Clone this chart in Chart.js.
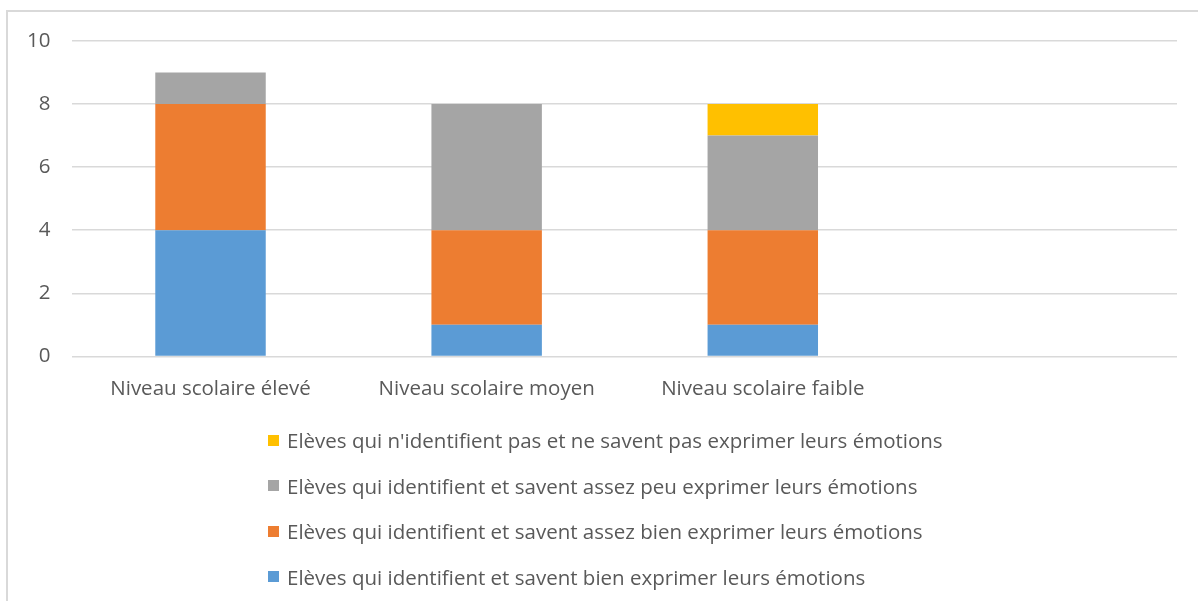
<!DOCTYPE html>
<html lang="fr">
<head>
<meta charset="utf-8">
<script src="https://cdn.jsdelivr.net/npm/chart.js@4"></script>
<style>
  body { margin: 0; background: #fff; font-family: "Open Sans", sans-serif; }
  #frame {
    position: absolute; left: 6px; top: 10px; width: 1300px; height: 700px;
    border-left: 2px solid #d9d9d9; border-top: 2px solid #d9d9d9;
  }
  #wrap { position: absolute; left: 0; top: 0; width: 1198px; height: 440px; }
  #legend { position: absolute; left: 268px; top: 426px; }
  .item { display: flex; align-items: center; height: 28px; margin-bottom: 17.5px;
          font-size: 20.5px; color: #595959; white-space: nowrap; }
  .item span.box { width: 11px; height: 11px; margin-right: 8px; display: inline-block; flex: none; }
</style>
</head>
<body>
<div id="frame"></div>
<div id="wrap"><canvas id="chart"></canvas></div>
<div id="legend"></div>
<script>
// catégories (la 4e est vide, comme dans l'original)
const niveaux = ["Niveau scolaire élevé", "Niveau scolaire moyen", "Niveau scolaire faible", ""];

// séries
const bien = [4, 1, 1, null];
const assezBien = [4, 3, 3, null];
const assezPeu = [1, 4, 3, null];
const pasDuTout = [0, 0, 1, null];

const noms = [
    "Elèves qui identifient et savent bien exprimer leurs émotions",
    "Elèves qui identifient et savent assez bien exprimer leurs émotions",
    "Elèves qui identifient et savent assez peu exprimer leurs émotions",
    "Elèves qui n'identifient pas et ne savent pas exprimer leurs émotions",
];
const couleurs = ["#5b9bd5", "#ed7d31", "#a5a5a5", "#ffc000"];

const series = [bien, assezBien, assezPeu, pasDuTout];
const police = { family: "Open Sans", size: 20.5 };

const chart = new Chart(document.getElementById("chart"), {
    type: "bar",
    data: {
        labels: niveaux,
        datasets: series.map((d, i) => ({
            label: noms[i],
            data: d,
            backgroundColor: couleurs[i],
            borderWidth: 0,
            barPercentage: 0.4,
            categoryPercentage: 1,
        })),
    },
    options: {
        responsive: true,
        maintainAspectRatio: false,
        animation: false,
        layout: { padding: { top: 41, right: 21, bottom: 19, left: 5 } },
        plugins: {
            legend: { display: false },
            tooltip: { enabled: false },
        },
        scales: {
            x: {
                stacked: true,
                grid: { display: false, drawTicks: false },
                border: { display: false },
                ticks: { color: "#595959", font: police, padding: 20, maxRotation: 0 },
            },
            y: {
                stacked: true,
                min: 0,
                max: 10,
                grid: { color: "#d9d9d9", lineWidth: 1.5, drawTicks: false },
                border: { display: false },
                ticks: { stepSize: 2, color: "#595959", font: police, padding: 22 },
            },
        },
    },
});

// légende en colonne, ordre inversé comme dans Excel
const legendEl = document.getElementById("legend");
for (let i = noms.length - 1; i >= 0; i--) {
    const row = document.createElement("div");
    row.className = "item";
    const box = document.createElement("span");
    box.className = "box";
    box.style.background = couleurs[i];
    row.appendChild(box);
    row.appendChild(document.createTextNode(noms[i]));
    legendEl.appendChild(row);
}
</script>
</body>
</html>
